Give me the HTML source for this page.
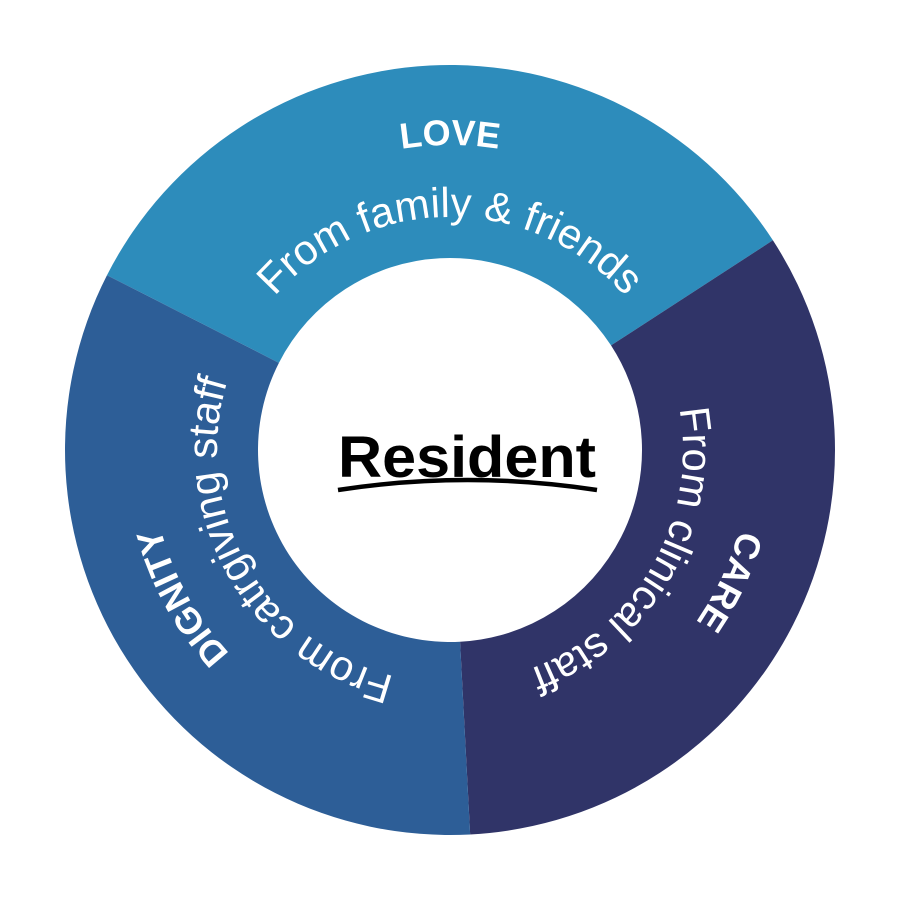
<!DOCTYPE html>
<html><head><style>html,body{margin:0;padding:0;background:#fff}</style></head>
<body>
<svg width="900" height="900" viewBox="0 0 900 900" xmlns="http://www.w3.org/2000/svg">
<defs>
<path id="r305" d="M450,755 A305,305 0 1 1 450,145 A305,305 0 1 1 450,755"/>
<path id="r300" d="M450,750 A300,300 0 1 1 450,150 A300,300 0 1 1 450,750"/>
<path id="r233" d="M450,683 A233,233 0 1 1 450,217 A233,233 0 1 1 450,683"/>
</defs>
<path fill="#2D8CBB" d="M106.97,275.21 A385,385 0 0 1 772.89,240.31 L611.03,345.43 A192,192 0 0 0 278.93,362.84 Z"/>
<path fill="#303468" d="M772.89,240.31 A385,385 0 0 1 470.15,834.47 L460.05,641.74 A192,192 0 0 0 611.03,345.43 Z"/>
<path fill="#2D5E97" d="M470.15,834.47 A385,385 0 0 1 106.97,275.21 L278.93,362.84 A192,192 0 0 0 460.05,641.74 Z"/>
<g fill="#fff" font-family="Liberation Sans, sans-serif">
<text font-size="36" font-weight="bold"><textPath href="#r305" startOffset="50%" text-anchor="middle">LOVE</textPath></text>
<text font-size="36" font-weight="bold"><textPath href="#r300" startOffset="82%" text-anchor="middle">CARE</textPath></text>
<text font-size="36" font-weight="bold"><textPath href="#r300" startOffset="17%" text-anchor="middle">DIGNITY</textPath></text>
<text font-size="42"><textPath href="#r233" startOffset="50%" text-anchor="middle">From family &amp; friends</textPath></text>
<text font-size="42"><textPath href="#r233" startOffset="83.3%" text-anchor="middle">From clinical staff</textPath></text>
<text font-size="42"><textPath href="#r233" startOffset="16.8%" text-anchor="middle">From catrgiving staff</textPath></text>
</g>
<text x="338" y="477" font-family="Liberation Sans, sans-serif" font-weight="bold" font-size="58" textLength="258" lengthAdjust="spacingAndGlyphs">Resident</text>
<path d="M338,490 Q468,470 597,490" stroke="#000" stroke-width="4.5" fill="none"/>
</svg>
</body></html>
